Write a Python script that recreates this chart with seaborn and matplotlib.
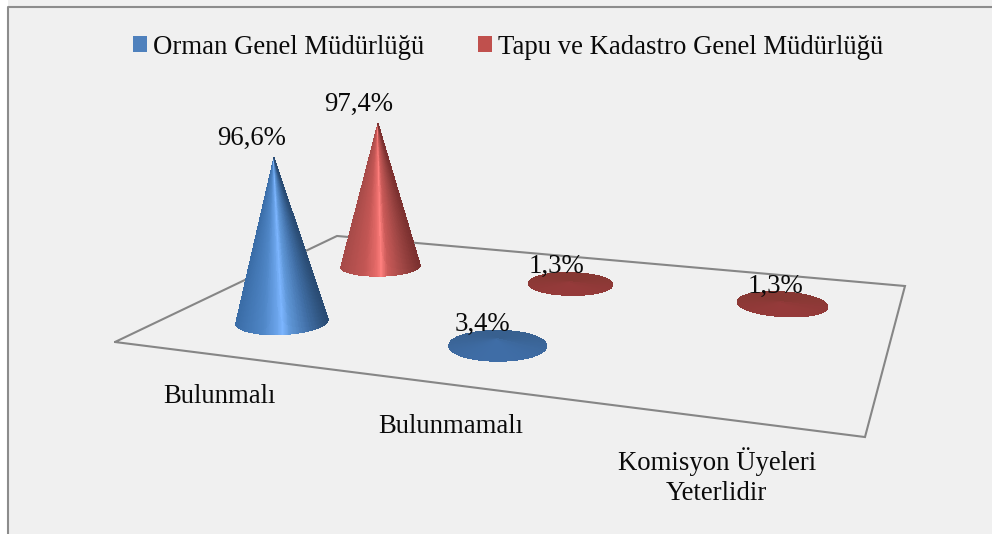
import numpy as np
import matplotlib
matplotlib.use("Agg")
import matplotlib.pyplot as plt
import seaborn as sns
from matplotlib.colors import ListedColormap
from matplotlib.patches import Patch

categories = ["Bulunmalı", "Bulunmamalı", "Komisyon Üyeleri\nYeterlidir"]
series_names = ["Orman Genel Müdürlüğü", "Tapu ve Kadastro Genel Müdürlüğü"]
orman_values = [96.6, 3.4, None]
tapu_values = [97.4, 1.3, 1.3]
value_labels = {96.6: "96,6%", 97.4: "97,4%", 3.4: "3,4%", 1.3: "1,3%"}

legend_colors = ["#4F81BD", "#C0504D"]
shades = [
    ["#3A6CA6", "#4F86C6", "#6CA5EC", "#7DB6FF", "#5F97D8", "#416FA6", "#2A4C74"],
    ["#A64A48", "#C25654", "#E86C6A", "#FF807E", "#CB5B59", "#A04745", "#7C3130"],
]
flat_shades = [["#38608F", "#3F6DA6"], ["#863833", "#953A3A"]]
stops = [0, 0.3, 0.47, 0.52, 0.6, 0.8, 1]

sns.set_theme(style="white")
plt.rcParams["font.family"] = ["Liberation Serif", "DejaVu Serif"]

# floor plane, drawn in the pixel space of the picture
a, b, c = 587.8, 334.4, 115.0
d, e, f = 13.1, -27.3, 342.0
g, h = -0.1875, 0.3336
RU, RV = 0.066, 0.097
Z_SCALE = 1.77
TEXT_SIZE = 19.3


def project(u, v, z=0.0):
    w = 1 + g * np.asarray(u) + h * np.asarray(v)
    x = (a * np.asarray(u) + b * np.asarray(v) + c) / w
    y = (d * np.asarray(u) + e * np.asarray(v) + f) / w
    lift = Z_SCALE * z / w
    return x + (x - 441) * 0.0003 * lift, y - lift


def shade_cmap(colors):
    ramp = sns.blend_palette(colors, n_colors=256)
    pos = np.interp(np.linspace(0, 1, 256), stops, np.linspace(0, 1, len(stops)))
    return ListedColormap([ramp[int(p * 255)] for p in pos])


def draw_cone(ax, cat, ser, value):
    uc = (cat + 0.5) / len(categories)
    vc = (ser + 0.5) / len(series_names)
    t = np.linspace(0, 2 * np.pi, 361)
    rx, ry = project(uc + RU * np.cos(t), vc + RV * np.sin(t))
    tip_x, tip_y = project(uc, vc, value)

    if value < 10:
        # hardly any height, seen as a flat disc
        X = np.vstack([rx, np.full_like(rx, tip_x)])
        Y = np.vstack([ry, np.full_like(ry, tip_y)])
        C = ((ry[:-1] - ry.min()) / (ry.max() - ry.min()))[None, :]
        ax.pcolormesh(X, Y, C, cmap=sns.blend_palette(flat_shades[ser], as_cmap=True),
                      vmin=0, vmax=1, edgecolors="face", linewidth=0.3, zorder=3)
        label_y = tip_y - 15
    else:
        # only the front half of the ring shows
        i_left = int(np.argmin(rx[:-1]))
        i_right = int(np.argmax(rx[:-1]))
        if i_right < i_left:
            i_right += 360
        idx = np.arange(i_left, i_right + 1) % 360
        fx, fy = rx[idx], ry[idx]
        X = np.vstack([fx, np.full_like(fx, tip_x)])
        Y = np.vstack([fy, np.full_like(fy, tip_y)])
        mid = (fx[:-1] + fx[1:]) / 2
        C = ((mid - fx.min()) / (fx.max() - fx.min()))[None, :]
        ax.pcolormesh(X, Y, C, cmap=shade_cmap(shades[ser]), vmin=0, vmax=1,
                      edgecolors="face", linewidth=0.3, zorder=3)
        label_y = tip_y - 19.5

    dx = -22.5 + (tip_x - 274) * 0.03
    ax.text(tip_x + dx, label_y, value_labels[value], ha="center", va="center",
            fontsize=TEXT_SIZE, color="#0A0A0A", zorder=6)


fig = plt.figure(figsize=(9.92, 5.34), dpi=100, facecolor="white")
ax = fig.add_axes([0, 0, 1, 1])
ax.set_xlim(0, 992)
ax.set_ylim(534, 0)
ax.axis("off")

# chart area with its frame (only top and left show, the rest is cropped)
ax.axvspan(8, 992, color="#F0F0F0", zorder=0, lw=0)
ax.plot([7.5, 7.5, 992], [534, 6.5, 6.5], color="#8C8C8C", lw=1.5, zorder=1, solid_capstyle="butt")

# floor
fu = np.array([0, 1, 1, 0, 0])
fv = np.array([0, 0, 1, 1, 0])
floor_x, floor_y = project(fu, fv)
ax.plot(floor_x, floor_y, color="#868686", lw=1.5, zorder=2, solid_joinstyle="miter")

for cat, label in enumerate(categories):
    lx, ly = project((cat + 0.5) / len(categories), 0)
    ax.text(lx, ly + 29, label, ha="center", va="top", fontsize=TEXT_SIZE,
            color="#0A0A0A", linespacing=1.25, zorder=6)

# back row first so the front row sits over it
for cat in range(len(categories)):
    if tapu_values[cat] is not None:
        draw_cone(ax, cat, 1, tapu_values[cat])
for cat in range(len(categories)):
    if orman_values[cat] is not None:
        draw_cone(ax, cat, 0, orman_values[cat])

handles = [Patch(facecolor=col, edgecolor="none", label=name)
           for col, name in zip(legend_colors, series_names)]
ax.legend(handles=handles, loc="center", bbox_to_anchor=(508 / 992, 1 - 47 / 534),
          ncol=2, frameon=False, fontsize=TEXT_SIZE, handlelength=0.52, handleheight=0.52,
          handletextpad=0.22, columnspacing=2.03, labelcolor="#0A0A0A")

plt.savefig("out.png", dpi=100)
plt.close()
